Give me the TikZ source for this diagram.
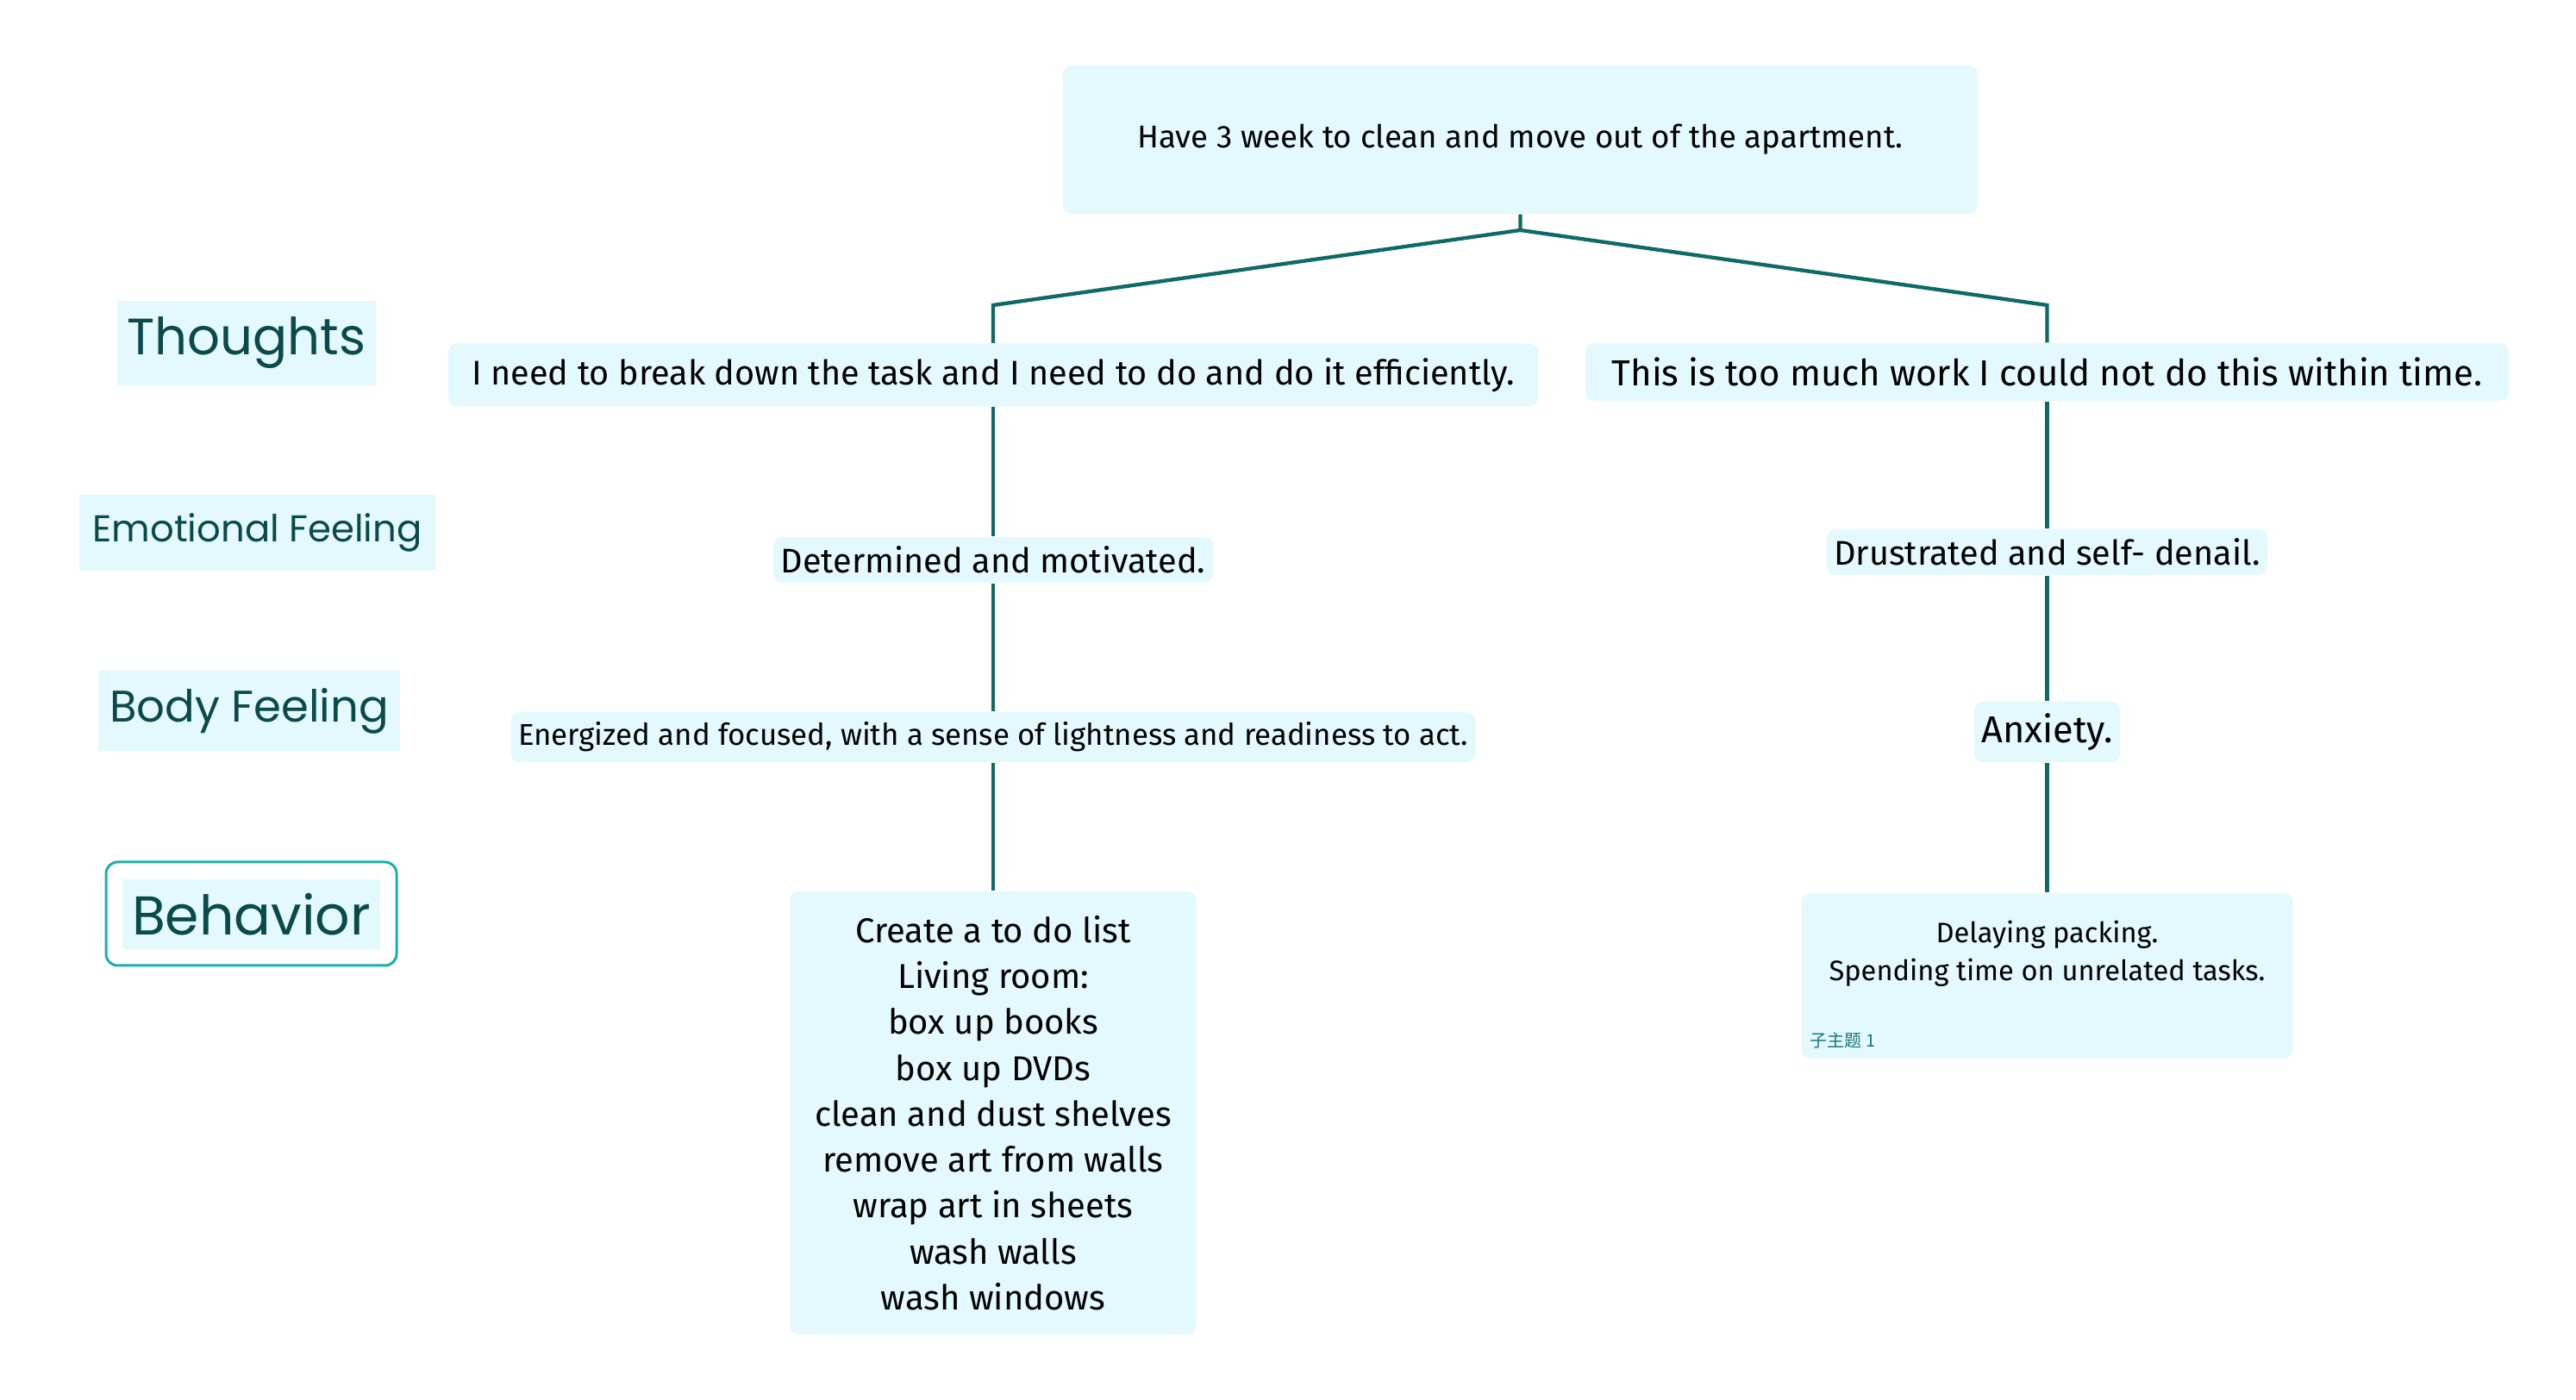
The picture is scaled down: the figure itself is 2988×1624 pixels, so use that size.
\documentclass[tikz,border=0pt]{standalone}
\usepackage{fontspec}
\setmainfont{Fira Sans}
\newfontfamily\labelfont{Poppins}
\newfontfamily\cjkfont{Noto Sans CJK SC}
\definecolor{boxfill}{HTML}{E4F9FD}
\definecolor{labtext}{HTML}{0A4A48}
\definecolor{linecol}{HTML}{0F6A66}
\definecolor{behborder}{HTML}{1BAFA9}
\definecolor{subtext}{HTML}{167A76}
\newcommand{\fs}[2]{\fontsize{#1}{#2}\selectfont}
\begin{document}
\begin{tikzpicture}[x=0.3pt,y=-0.3pt,
  box/.style={fill=boxfill, rounded corners=3pt, inner sep=0pt, text=black, align=center},
  lab/.style={fill=boxfill, inner sep=0pt, text=labtext},
  conn/.style={draw=linecol, line width=1.3pt}]
\useasboundingbox (0,0) rectangle (2988,1624);
\fill[white] (0,0) rectangle (2988,1624);

% labels
\node[lab, minimum width=90pt, minimum height=29.4pt, font=\labelfont\fs{17.8}{20}] (thoughts) at (286,398) {Thoughts};
\node[lab, minimum width=123.9pt, minimum height=26.4pt, font=\labelfont\fs{13}{15}] (emo) at (298.5,618) {Emotional Feeling};
\node[lab, minimum width=105pt, minimum height=27.9pt, font=\labelfont\fs{15.4}{17}] (body) at (289,824.5) {Body Feeling};
\node[draw=behborder, line width=0.9pt, rounded corners=4pt, minimum width=101.1pt, minimum height=36pt, inner sep=0pt] (behout) at (291.5,1060) {};
\node[lab, minimum width=89.7pt, minimum height=24.3pt, font=\labelfont\fs{19}{21}] (beh) at (291.5,1060.5) {Behavior};

% tree
\node[box, minimum width=318.3pt, minimum height=51.6pt, font=\fs{11}{13}] (root) at (1763.5,162) {Have 3 week to clean and move out of the apartment.};

\node[box, minimum width=379.2pt, minimum height=21.9pt, font=\fs{11.9}{14}] (L1) at (1152,435) {I need to break down the task and I need to do and do it efficiently.};
\node[box, minimum width=153pt, minimum height=15.9pt, font=\fs{11.9}{14}] (L2) at (1152,649.5) {Determined and motivated.};
\node[box, minimum width=335.7pt, minimum height=17.4pt, font=\fs{10.45}{12}] (L3) at (1152,855) {Energized and focused, with a sense of lightness and readiness to act.};
\node[box, minimum width=141.3pt, minimum height=154.2pt, font=\fs{12}{15.98}] (L4) at (1152,1291) {Create a to do list\\Living room:\\box up books\\box up DVDs\\clean and dust shelves\\remove art from walls\\wrap art in sheets\\wash walls\\wash windows};

\node[box, minimum width=321.3pt, minimum height=20.1pt, font=\fs{12.6}{14}] (R1) at (2374.5,431.5) {This is too much work I could not do this within time.};
\node[box, minimum width=153.3pt, minimum height=15.9pt, font=\fs{11.9}{14}] (R2) at (2374.5,640.5) {Drustrated and self- denail.};
\node[box, minimum width=50.7pt, minimum height=21pt, font=\fs{13}{15}] (R3) at (2374.5,849) {Anxiety.};
\node[box, minimum width=171pt, minimum height=57.6pt] (R4) at (2374.5,1132) {};
\node[align=center, inner sep=0pt, font=\fs{9.8}{13.2}] (R4t) at (2374.5,1106.5) {Delaying packing.\\Spending time on unrelated tasks.};
\node[anchor=west, inner sep=0pt, text=subtext, font=\cjkfont\fs{6}{7}] (R4s) at (2099,1207) {子主题 1};

% connectors
\coordinate (j) at (1763.5,267);
\coordinate (jl) at (1152,354);
\coordinate (jr) at (2374.5,354);
\draw[conn] (root.south) -- (j) -- (jl) -- (L1.north);
\draw[conn] (j) -- (jr) -- (R1.north);
\draw[conn] (L1.south) -- (L2.north);
\draw[conn] (L2.south) -- (L3.north);
\draw[conn] (L3.south) -- (L4.north);
\draw[conn] (R1.south) -- (R2.north);
\draw[conn] (R2.south) -- (R3.north);
\draw[conn] (R3.south) -- (R4.north);
\end{tikzpicture}
\end{document}
